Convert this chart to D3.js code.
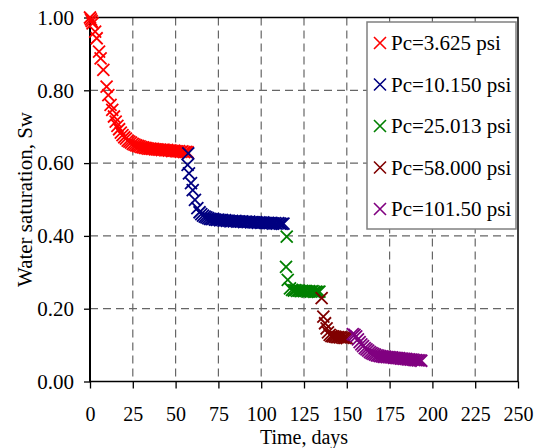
<!DOCTYPE html>
<html>
<head>
<meta charset="utf-8">
<script src="https://cdn.jsdelivr.net/npm/d3@7"></script>
<style>
  body { margin: 0; background: #fff; }
  svg { display: block; }
  text { font-family: "Liberation Serif", "Times New Roman", serif; fill: #000; }
</style>
</head>
<body>
<svg id="chart" width="544" height="448"></svg>
<script>
// Water saturation versus time for each capillary pressure step
const seriesNames = ["Pc=3.625 psi", "Pc=10.150 psi", "Pc=25.013 psi", "Pc=58.000 psi", "Pc=101.50 psi"];
const seriesColors = ["#ff0000", "#000080", "#008000", "#800000", "#800080"];

const pc1Days = [0, 0.5, 1, 1.5, 3, 3.9, 5.3, 6.2, 7.8, 9.7, 10.7, 12, 13, 14, 15, 16, 17, 18, 19, 20,
  21, 22, 23, 24, 25, 26, 27, 28, 29, 30, 31, 32, 33, 34, 35, 36, 37, 38, 39, 40,
  41, 42, 43, 44, 45, 46, 47, 48, 49, 50, 51, 52, 53, 54, 55, 56, 57];
const pc1Sw = [1.000, 0.995, 0.990, 0.984, 0.961, 0.943, 0.906, 0.888, 0.856, 0.810, 0.787, 0.760, 0.746, 0.728, 0.714, 0.702, 0.693, 0.684, 0.677, 0.671,
  0.667, 0.662, 0.659, 0.656, 0.653, 0.651, 0.649, 0.647, 0.646, 0.644, 0.643, 0.642, 0.641, 0.640, 0.640, 0.639, 0.639, 0.638, 0.638, 0.637,
  0.637, 0.636, 0.637, 0.635, 0.636, 0.634, 0.635, 0.633, 0.634, 0.633, 0.632, 0.633, 0.631, 0.632, 0.630, 0.631, 0.630];

const pc2Days = [57.4, 57.0, 57.8, 59, 60, 61.3, 62.7, 64, 65, 66, 67, 68, 69, 70,
  71, 72, 73, 74, 75, 76, 77, 78, 79, 80, 81, 82, 83, 84, 85, 86, 87, 88, 89, 90,
  91, 92, 93, 94, 95, 96, 97, 98, 99, 100, 101, 102, 103, 104, 105, 106, 107, 108, 109, 110,
  111, 112, 113];
const pc2Sw = [0.627, 0.595, 0.572, 0.545, 0.526, 0.499, 0.476, 0.465, 0.460, 0.456, 0.453, 0.451, 0.449, 0.447,
  0.446, 0.447, 0.445, 0.444, 0.445, 0.443, 0.444, 0.442, 0.443, 0.441, 0.442, 0.440, 0.441, 0.440, 0.441, 0.439, 0.440, 0.439, 0.440, 0.438,
  0.439, 0.438, 0.439, 0.437, 0.438, 0.437, 0.438, 0.436, 0.437, 0.436, 0.437, 0.436, 0.435, 0.436, 0.435, 0.436, 0.434, 0.435, 0.434, 0.435,
  0.434, 0.433, 0.434];

const pc3Days = [114.9, 114.5, 115.5, 116.8, 118, 119, 120, 121, 122, 123, 124, 125, 126, 127, 128, 129, 130, 131, 132, 133, 134];
const pc3Sw = [0.398, 0.315, 0.279, 0.256, 0.252, 0.250, 0.251, 0.249, 0.250, 0.248, 0.249, 0.248, 0.249, 0.247, 0.248, 0.247, 0.248, 0.246, 0.247, 0.246, 0.247];

const pc4Days = [135.3, 136.3, 137.3, 138.2, 139, 140, 141, 142, 143, 144, 145, 146, 147, 148, 149, 150];
const pc4Sw = [0.229, 0.178, 0.160, 0.146, 0.135, 0.128, 0.125, 0.124, 0.123, 0.122, 0.122, 0.121, 0.121, 0.120, 0.120, 0.119];

const pc5Days = [153.5, 154.5, 155.5, 156.5, 157.5, 158.5, 159.5, 160.5, 161.5, 162.5, 163.5, 164.5, 165.5, 166.5, 167.5, 168.5, 169.5, 170.5,
  171.5, 172.5, 173.5, 174.5, 175.5, 176.5, 177.5, 178.5, 179.5, 180.5, 181.5, 182.5, 183.5, 184.5, 185.5, 186.5, 187.5, 188.5, 189.5, 190.5,
  191.5, 192.5, 193.5];
const pc5Sw = [0.130, 0.128, 0.124, 0.116, 0.108, 0.102, 0.097, 0.092, 0.088, 0.085, 0.081, 0.078, 0.076, 0.074, 0.072, 0.071, 0.070, 0.069,
  0.068, 0.068, 0.067, 0.067, 0.066, 0.066, 0.065, 0.065, 0.064, 0.064, 0.063, 0.063, 0.062, 0.062, 0.061, 0.061, 0.060, 0.060, 0.059, 0.059,
  0.058, 0.058, 0.057];

const xTicks = [0, 25, 50, 75, 100, 125, 150, 175, 200, 225, 250];
const yTicks = [0, 0.2, 0.4, 0.6, 0.8, 1.0];

const seriesDays = [pc1Days, pc2Days, pc3Days, pc4Days, pc5Days];
const seriesSw = [pc1Sw, pc2Sw, pc3Sw, pc4Sw, pc5Sw];

const svg = d3.select("#chart");
const plot = { left: 90, right: 518, top: 17.5, bottom: 381.5 };
const fontSize = "21px";
const xFontSize = "20px";

const x = d3.scaleLinear().domain([0, 250]).range([plot.left, plot.right]);
const y = d3.scaleLinear().domain([0, 1]).range([plot.bottom, plot.top]);

// dashed grid
const grid = svg.append("g");
grid.selectAll("line.vx").data(xTicks.filter(d => d > 0 && d < 250)).enter().append("line")
  .attr("x1", d => x(d)).attr("x2", d => x(d))
  .attr("y1", plot.top).attr("y2", plot.bottom)
  .attr("stroke", "#666").attr("stroke-width", 1.2).attr("stroke-dasharray", "8,5");
grid.selectAll("line.hy").data(yTicks.filter(d => d > 0 && d < 1)).enter().append("line")
  .attr("x1", plot.left).attr("x2", plot.right)
  .attr("y1", d => y(d)).attr("y2", d => y(d))
  .attr("stroke", "#666").attr("stroke-width", 1.2).attr("stroke-dasharray", "8,5");

// axes
const xAxis = d3.axisBottom(x).tickValues(xTicks).tickFormat(d3.format("d")).tickSize(7).tickPadding(18);
const yAxis = d3.axisLeft(y).tickValues(yTicks).tickFormat(d3.format(".2f")).tickSize(6).tickPadding(10);

const gx = svg.append("g").attr("transform", `translate(0,${plot.bottom})`).call(xAxis);
const gy = svg.append("g").attr("transform", `translate(${plot.left},0)`).call(yAxis);
[[gx, xFontSize], [gy, fontSize]].forEach(([g, fs]) => {
  g.select(".domain").remove();
  g.selectAll("line").attr("stroke", "#000").attr("stroke-width", 1.3);
  g.selectAll("text").style("font-family", "'Liberation Serif','Times New Roman',serif").style("font-size", fs).attr("fill", "#000");
});

// plot frame
svg.append("rect")
  .attr("x", plot.left).attr("y", plot.top)
  .attr("width", plot.right - plot.left).attr("height", plot.bottom - plot.top)
  .attr("fill", "none").attr("stroke", "#000").attr("stroke-width", 1.5);
svg.append("line")
  .attr("x1", plot.left).attr("x2", plot.left).attr("y1", plot.top).attr("y2", plot.bottom)
  .attr("stroke", "#000").attr("stroke-width", 2);

// cross markers
const cross = "M-6,-6L6,6M-6,6L6,-6";
seriesNames.forEach((name, i) => {
  const pts = seriesDays[i].map((t, j) => ({ t, sw: seriesSw[i][j] }));
  svg.append("g").selectAll("path").data(pts).enter().append("path")
    .attr("d", cross)
    .attr("transform", d => `translate(${x(d.t)},${y(d.sw)})`)
    .attr("fill", "none").attr("stroke", seriesColors[i]).attr("stroke-width", 1.8);
});

// legend
const legend = svg.append("g");
legend.append("rect")
  .attr("x", 367).attr("y", 22).attr("width", 149).attr("height", 207)
  .attr("fill", "#fff").attr("stroke", "#808080").attr("stroke-width", 1.5);
seriesNames.forEach((name, i) => {
  const cy = 43 + i * 41.5;
  legend.append("path").attr("d", cross)
    .attr("transform", `translate(380,${cy})`)
    .attr("fill", "none").attr("stroke", seriesColors[i]).attr("stroke-width", 1.6);
  legend.append("text").attr("x", 391).attr("y", cy).attr("dy", "0.35em")
    .style("font-size", fontSize).text(name);
});

// axis titles
svg.append("text")
  .attr("x", (plot.left + plot.right) / 2).attr("y", 443.5)
  .attr("text-anchor", "middle").style("font-size", xFontSize).text("Time, days");
svg.append("text")
  .attr("transform", `translate(32,${(plot.top + plot.bottom) / 2}) rotate(-90)`)
  .attr("text-anchor", "middle").style("font-size", fontSize).text("Water saturation, Sw");
</script>
</body>
</html>
